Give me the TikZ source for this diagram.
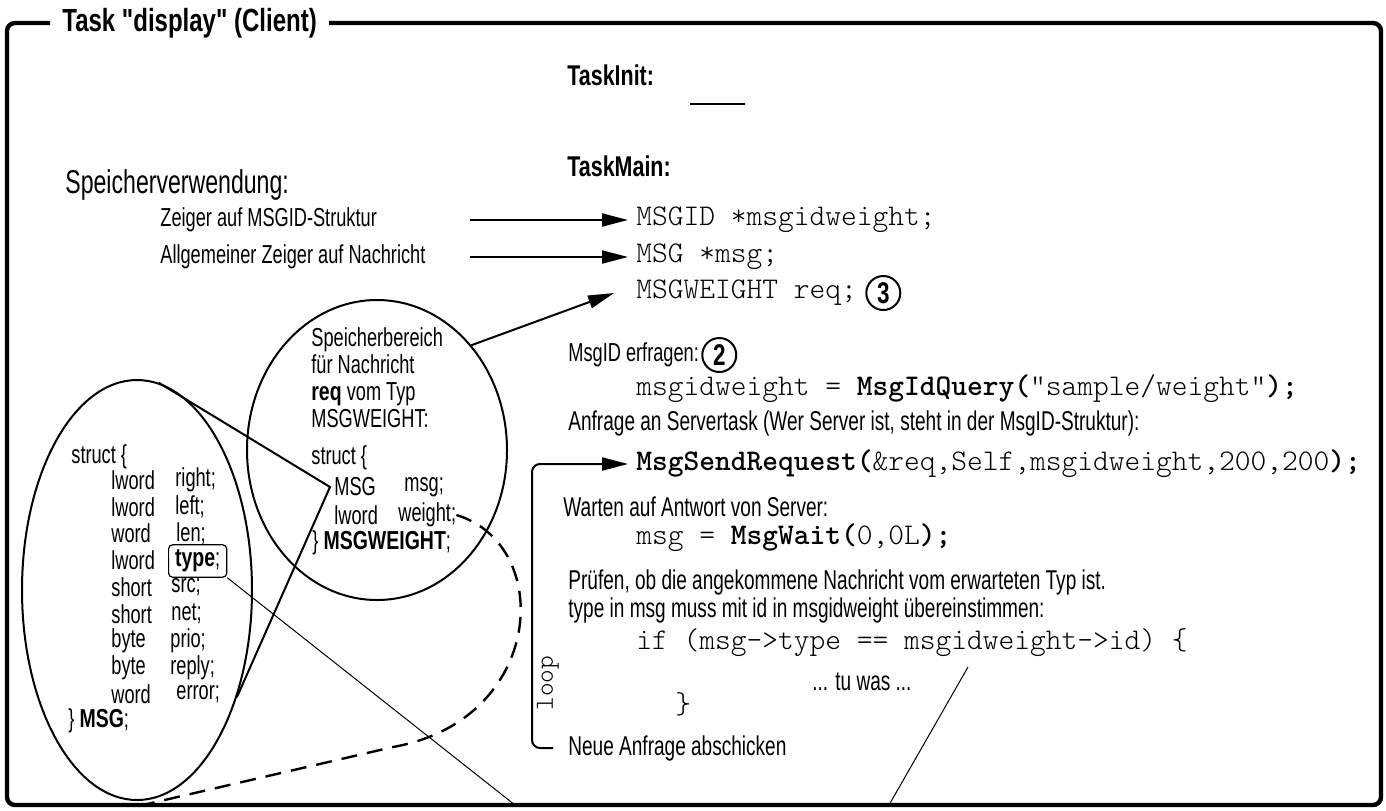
\documentclass[tikz,border=0pt]{standalone}
\usepackage{fontspec}
\setmainfont{Liberation Sans}[Ligatures=TeXOff, FakeStretch=0.70, BoldFeatures={FakeStretch=0.75}]
\usetikzlibrary{positioning,shapes.geometric,arrows.meta}

\tikzset{
  lbl/.style={inner sep=0pt, anchor=west, font=\fontsize{13}{13.5}\selectfont},
  note/.style={lbl, font=\fontsize{13.6}{14}\selectfont},
  lblbig/.style={lbl, font=\fontsize{16.5}{18}\selectfont},
  heading/.style={lbl, font=\bfseries\fontsize{14.3}{16}\selectfont},
  codeline/.style={inner sep=0pt, anchor=west, font=\ttfamily\fontseries{l}\fontsize{15}{17}\selectfont},
  numcircle/.style={circle, draw, line width=1pt, minimum size=17pt, inner sep=0pt, font=\bfseries\fontsize{15}{15}\selectfont},
  bubble/.style={ellipse, draw, line width=1pt, inner sep=0pt},
  typebox/.style={draw, rounded corners=2pt, line width=0.6pt, inner xsep=3.25pt, inner ysep=2.5pt},
  ptr/.style={line width=1pt, -{Triangle[length=13pt,width=6.5pt]}},
  taskframe/.style={line width=2.2pt, rounded corners=4pt},
  zoomline/.style={line width=0.5pt},
  zoomdash/.style={line width=1.2pt, dash pattern=on 8pt off 5pt}
}

\begin{document}
\begin{tikzpicture}[x=0.5pt, y=-0.5pt]
\useasboundingbox (0,0) rectangle (1386,810);

% frame of the task
\node[inner xsep=6pt, inner ysep=0pt, anchor=west, font=\bfseries\fontsize{16}{18}\selectfont] (title) at (50,23) {Task "display" (Client)};
\draw[taskframe] (title.west) -- (7,23) -- (7,805) -- (1381,805) -- (1381,23) -- (title.east);

\node[heading] (taskinit) at (567,75) {TaskInit:};
\draw[line width=1pt] (690,104) -- (745,104);
\node[heading] (taskmain) at (567,166) {TaskMain:};
\node[lblbig] (usage) at (65,185) {Speicherverwendung:};

% variables
\node[lbl] (zeiger) at (160,220) {Zeiger auf MSGID-Struktur};
\node[lbl] (allg) at (160,257) {Allgemeiner Zeiger auf Nachricht};
\node[codeline] (msgidvar) at (636,220) {MSGID *msgidweight;};
\node[codeline] (msgvar) at (636,257) {MSG *msg;};
\node[codeline] (reqvar) at (636,293) {MSGWEIGHT req;};
\node[numcircle, right=4pt of reqvar] (three) {3};
\coordinate (ptrx) at (470,0);
\draw[ptr] (zeiger -| ptrx) -- ([xshift=-4pt]msgidvar.west);
\draw[ptr] (allg -| ptrx) -- ([xshift=-4pt]msgvar.west);

% memory of req
\node[bubble, minimum width=130pt, minimum height=150pt] (memcell) at (377,450) {};
\node[lbl, align=left] (memtext) at (311,378) {Speicherbereich\\für Nachricht\\\textbf{req} vom Typ\\MSGWEIGHT:};
\node[lbl] (wstruct) at (311,458) {struct \{};
\node[lbl] (wmsg) at (334,487) {MSG};
\node[lbl] (wmsgname) at (404,487) {msg;};
\node[lbl] (wlword) at (334,515) {lword};
\node[lbl] (wweight) at (398,515) {weight;};
\node[lbl] (wend) at (312,543) {\} \textbf{MSGWEIGHT};};
\draw[ptr] (memcell.48) -- ([xshift=-11pt]reqvar.west);

% struct MSG
\node[bubble, minimum width=115pt, minimum height=210pt] (structcell) at (137,590) {};
\node[lbl] (mstruct) at (71,457) {struct \{};
\foreach \ty [count=\i from 0] in {lword,lword,word,lword,short,short,byte,byte,word}
  \node[lbl] (mty\i) at (111,480+26.8*\i) {\ty};
\foreach \nm/\nx/\i in {right/175/0,left/175/1,len/176/2,src/171/4,net/171/5,prio/170/6,reply/170/7,error/176/8}
  \node[lbl] (mnm\i) at (\nx,480+26.8*\i) {\nm;};
\node[lbl, typebox] (typefield) at (168,561) {\textbf{type};};
\node[lbl] (mend) at (68,721) {\} \textbf{MSG};};

% zoom lines
\coordinate (lowA) at (143,805);
\coordinate (lowB) at (515,805);
\coordinate (lowC) at (889,805);
\coordinate (condpt) at (968,667);
\draw[line width=1pt] (structcell.84) -- ([xshift=-2pt]wmsg.west) -- (structcell.-47);
\draw[zoomdash] (wweight.east) .. controls (555,545) and (545,720) .. (393,747) -- (lowA);
\draw[zoomline] (typefield.south east) -- (lowB);
\draw[zoomline] (condpt) -- (lowC);

% main loop
\node[lbl] (msgq) at (568,355) {MsgID erfragen:};
\node[numcircle, right=1pt of msgq] (two) {2};
\node[codeline] (query) at (636,389) {msgidweight = \textbf{MsgIdQuery(}"sample/weight"\textbf{);}};
\node[note] (ask) at (568,423) {Anfrage an Servertask (Wer Server ist, steht in der MsgID-Struktur):};
\node[codeline] (send) at (636,464) {\textbf{MsgSendRequest(}\&req,Self,msgidweight,200,200\textbf{);}};
\node[note] (waitlbl) at (563,507) {Warten auf Antwort von Server:};
\node[codeline] (wait) at (636,538) {msg = \textbf{MsgWait(}0,0L\textbf{);}};
\node[note, align=left] (check) at (568,596) {Prüfen, ob die angekommene Nachricht vom erwarteten Typ ist.\\type in msg muss mit id in msgidweight übereinstimmen:};
\node[codeline] (cond) at (636,643) {if (msg->type == msgidweight->id) \{};
\node[note] (dots) at (812,682) {... tu was ...};
\node[codeline] (closing) at (675,704) {\}};
\node[note] (again) at (568,748) {Neue Anfrage abschicken};
\node[codeline, anchor=center, rotate=90, font=\ttfamily\fontseries{l}\fontsize{13}{13}\selectfont] (loopword) at (548,683) {loop};
\draw[ptr, rounded corners=4pt] ([xshift=-7.5pt]again.west) -- ++(-21,0) |- ([xshift=-4pt]send.west);
\end{tikzpicture}
\end{document}
